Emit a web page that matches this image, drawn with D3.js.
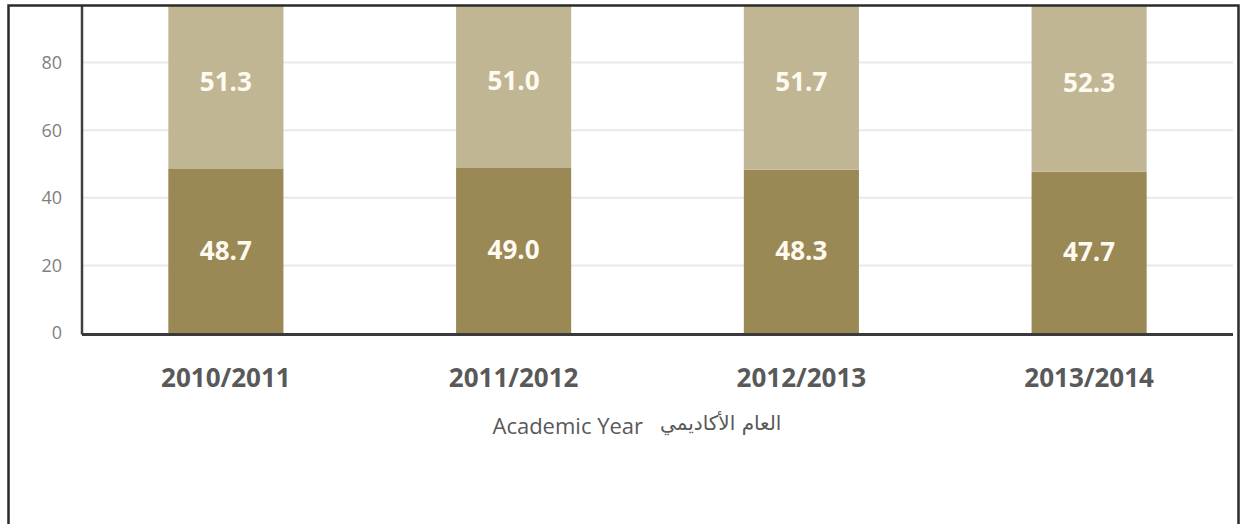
<!DOCTYPE html>
<html>
<head>
<meta charset="utf-8">
<script src="https://cdn.jsdelivr.net/npm/d3@7"></script>
<style>
  html, body { margin: 0; padding: 0; background: #fff; }
  svg { display: block; }
</style>
</head>
<body>
<svg id="chart" width="1242" height="524"></svg>
<script>
// Academic years on the x axis
const years = ["2010/2011", "2011/2012", "2012/2013", "2013/2014"];
// Lower (dark) and upper (light) shares, percent
const lowerShare = [48.7, 49.0, 48.3, 47.7];
const upperShare = [51.3, 51.0, 51.7, 52.3];
// Value-axis tick labels (100 sits above the frame and is not drawn)
const yTicks = [0, 20, 40, 60, 80];
const titleEn = "Academic Year";
const titleAr = "العام الأكاديمي";

const svg = d3.select("#chart");
const W = 1242, H = 524;

const plot = { left: 82, right: 1233, top: 6, zero: 333 };

const x = d3.scaleBand().domain(years).range([plot.left, plot.right]).paddingInner(0.6).paddingOuter(0.3);
const y = d3.scaleLinear().domain([0, 100]).range([plot.zero, plot.zero - 338]);

const colLower = "#9a8855";
const colUpper = "#c1b693";

svg.append("defs").append("clipPath").attr("id", "frameClip")
  .append("rect").attr("x", 9).attr("y", plot.top).attr("width", W - 18).attr("height", H);

const g = svg.append("g").attr("clip-path", "url(#frameClip)");

// gridlines
g.append("g").selectAll("line").data(yTicks.filter(d => d > 0)).join("line")
  .attr("x1", plot.left).attr("x2", plot.right)
  .attr("y1", d => y(d)).attr("y2", d => y(d))
  .attr("stroke", "#e9e9e9").attr("stroke-width", 2);

// y tick labels
g.append("g").selectAll("text").data(yTicks).join("text")
  .attr("x", 62).attr("y", d => y(d))
  .attr("dy", "0.35em").attr("text-anchor", "end")
  .attr("font-family", "Open Sans, sans-serif").attr("font-size", 18)
  .attr("fill", "#7f7f7f").text(d => d);

const rows = years.map((yr, i) => ({ yr, lo: lowerShare[i], up: upperShare[i] }));

// lower segments
g.append("g").selectAll("rect").data(rows).join("rect")
  .attr("x", d => x(d.yr)).attr("width", x.bandwidth())
  .attr("y", d => y(d.lo)).attr("height", d => y(0) - y(d.lo))
  .attr("fill", colLower);

// upper segments
g.append("g").selectAll("rect").data(rows).join("rect")
  .attr("x", d => x(d.yr)).attr("width", x.bandwidth())
  .attr("y", d => y(d.lo + d.up)).attr("height", d => y(d.lo) - y(d.lo + d.up))
  .attr("fill", colUpper);

// value labels
const lbl = g.append("g")
  .attr("font-family", "Open Sans, sans-serif").attr("font-weight", "bold")
  .attr("font-size", 26).attr("fill", "#fffaf0").attr("text-anchor", "middle");
lbl.selectAll("text.lo").data(rows).join("text").attr("class", "lo")
  .attr("x", d => x(d.yr) + x.bandwidth() / 2).attr("y", d => y(d.lo / 2))
  .attr("dy", "0.35em").text(d => d.lo.toFixed(1));
lbl.selectAll("text.up").data(rows).join("text").attr("class", "up")
  .attr("x", d => x(d.yr) + x.bandwidth() / 2).attr("y", d => y(d.lo + d.up / 2))
  .attr("dy", "0.35em").text(d => d.up.toFixed(1));

// axes lines
svg.append("line").attr("x1", plot.left).attr("x2", plot.left)
  .attr("y1", plot.top).attr("y2", y(0) + 1.5)
  .attr("stroke", "#404040").attr("stroke-width", 2.5);
svg.append("line").attr("x1", plot.left).attr("x2", plot.right)
  .attr("y1", y(0) + 1.5).attr("y2", y(0) + 1.5)
  .attr("stroke", "#3a3a3a").attr("stroke-width", 3);

// category labels
svg.append("g").selectAll("text").data(years).join("text")
  .attr("x", d => x(d) + x.bandwidth() / 2).attr("y", 378)
  .attr("dy", "0.35em").attr("text-anchor", "middle")
  .attr("font-family", "Open Sans, sans-serif").attr("font-weight", "bold")
  .attr("font-size", 26).attr("fill", "#595959").text(d => d);

// axis title
svg.append("text").attr("x", 643).attr("y", 426).attr("dy", "0.35em")
  .attr("text-anchor", "end").attr("font-family", "Open Sans, sans-serif")
  .attr("font-size", 22).attr("fill", "#595959").text(titleEn);
svg.append("text").attr("x", 660).attr("y", 423).attr("dy", "0.35em")
  .attr("text-anchor", "start").attr("font-family", "DejaVu Sans, sans-serif")
  .attr("font-size", 20).attr("fill", "#595959").text(titleAr);

// outer frame
svg.append("path")
  .attr("d", `M8.5,${H} V5.5 H1238.5 V${H}`)
  .attr("fill", "none").attr("stroke", "#2b2b2b").attr("stroke-width", 2.5);
</script>
</body>
</html>
